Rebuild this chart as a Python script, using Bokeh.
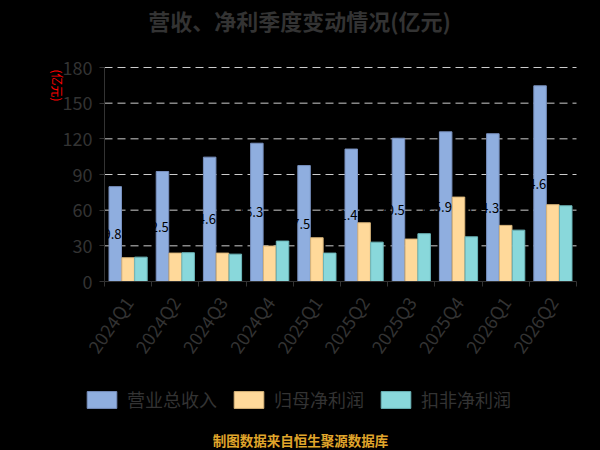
import math
from bokeh.plotting import figure
from bokeh.models import (ColumnDataSource, Range1d, FixedTicker, Legend,
                          LegendItem, Label)
from bokeh.transform import dodge
from bokeh.core.properties import value
from bokeh.embed import file_html
from bokeh.resources import INLINE

FONT = "Noto Sans CJK SC"

quarters = ["2024Q1", "2024Q2", "2024Q3", "2024Q4", "2025Q1",
            "2025Q2", "2025Q3", "2025Q4", "2026Q1", "2026Q2"]
revenue = [79.8, 92.5, 104.6, 116.3, 97.5, 111.4, 120.5, 125.9, 124.3, 164.6]
net_profit = [20.0, 23.9, 23.9, 29.8, 36.8, 49.4, 35.7, 71.0, 47.2, 64.6]
deducted_profit = [20.5, 24.2, 23.0, 34.0, 23.9, 33.1, 40.2, 37.6, 43.2, 63.7]
series_names = ["营业总收入", "归母净利润", "扣非净利润"]
y_ticks = [0, 30, 60, 90, 120, 150, 180]
title_text = "营收、净利季度变动情况(亿元)"
unit_text = "(亿元)"
footer_text = "制图数据来自恒生聚源数据库"

colors = ["#8FAEDF", "#FFD99A", "#89D8DB"]
edges = ["#7890BE", "#D9B57A", "#6CB6B9"]
TEXT = "#333333"

# canvas geometry (pixels)
W, H = 600, 450
PL, PR, PT, PB = 104, 576, 67, 281

n = len(quarters)
y_min, y_max = y_ticks[0], y_ticks[-1]
ppx = (PR - PL) / n
ppy = (PB - PT) / (y_max - y_min)
x_range = Range1d(-PL / ppx, n + (W - PR) / ppx)
y_range = Range1d(y_min - (H - PB) / ppy, y_max + PT / ppy)

pos = [i + 0.5 for i in range(n)]
src = ColumnDataSource(dict(
    pos=pos, rev=revenue, net=net_profit, ded=deducted_profit,
    label_y=[v / 2 for v in revenue],
    label_text=[f"{v:.1f}" for v in revenue],
))
grid_src = ColumnDataSource(dict(
    x0=[0] * (len(y_ticks) - 1), x1=[n] * (len(y_ticks) - 1),
    y=y_ticks[1:],
))

p = figure(width=W, height=H, x_range=x_range, y_range=y_range,
           output_backend="svg", toolbar_location=None, min_border=0,
           background_fill_color="black", border_fill_color="black",
           outline_line_color=None)
p.xgrid.visible = False
p.ygrid.visible = False

# dashed horizontal grid lines at the y ticks
p.segment(x0="x0", x1="x1", y0="y", y1="y", source=grid_src,
          line_color="#cccccc", line_dash="8 5", line_width=1, level="underlay")

bw = 0.265
off = 0.272
r1 = p.vbar(x=dodge("pos", -off), top="rev", width=bw, source=src,
            fill_color=colors[0], line_color=edges[0], line_width=1)
r2 = p.vbar(x=dodge("pos", 0), top="net", width=bw, source=src,
            fill_color=colors[1], line_color=edges[1], line_width=1)
r3 = p.vbar(x=dodge("pos", off), top="ded", width=bw, source=src,
            fill_color=colors[2], line_color=edges[2], line_width=1)

# black value labels (only visible where they cross the bars)
p.text(x=dodge("pos", -off + bw / 2), y="label_y", text="label_text", source=src,
       text_align="right", text_baseline="middle", text_color="#000000",
       text_font=value(FONT), text_font_size="13px")

# y axis
p.yaxis.fixed_location = 0
p.yaxis.bounds = (y_min, y_max)
p.yaxis.ticker = FixedTicker(ticks=y_ticks)
p.yaxis.axis_line_color = TEXT
p.yaxis.major_tick_line_color = TEXT
p.yaxis.major_tick_out = 5
p.yaxis.major_tick_in = 0
p.yaxis.minor_tick_line_color = None
p.yaxis.major_label_text_font = FONT
p.yaxis.major_label_text_font_size = "18px"
p.yaxis.major_label_text_color = TEXT
p.yaxis.major_label_standoff = 7

# x axis
p.xaxis.fixed_location = 0
p.xaxis.bounds = (0, n)
p.xaxis.ticker = FixedTicker(ticks=pos, minor_ticks=list(range(n + 1)))
p.xaxis.major_label_overrides = {pp: q for pp, q in zip(pos, quarters)}
p.xaxis.axis_line_color = TEXT
p.xaxis.major_tick_line_color = None
p.xaxis.major_tick_out = 0
p.xaxis.major_tick_in = 0
p.xaxis.minor_tick_line_color = TEXT
p.xaxis.minor_tick_out = 5
p.xaxis.minor_tick_in = 0
p.xaxis.major_label_orientation = math.radians(55)
p.xaxis.major_label_text_font = FONT
p.xaxis.major_label_text_font_size = "18px"
p.xaxis.major_label_text_color = TEXT
p.xaxis.major_label_standoff = 12


def canvas_label(x, y, text, **kw):
    # x, y measured from the canvas top-left corner
    return Label(x=x, y=H - y, x_units="screen", y_units="screen", text=text,
                 text_font=FONT, text_align="center", text_baseline="middle", **kw)


p.add_layout(canvas_label(299, 19, title_text, text_font_size="22px",
                          text_font_style="bold", text_color=TEXT))
p.add_layout(canvas_label(57, 85, unit_text, text_font_size="12px",
                          text_color="#ff0000", angle=-math.pi / 2))
p.add_layout(canvas_label(300, 439, footer_text, text_font_size="13.5px",
                          text_font_style="bold", text_color="#E0A62B"))

legend = Legend(items=[LegendItem(label=series_names[0], renderers=[r1]),
                       LegendItem(label=series_names[1], renderers=[r2]),
                       LegendItem(label=series_names[2], renderers=[r3])],
                orientation="horizontal", location=(83, H - 412),
                glyph_width=37, glyph_height=21, label_height=21,
                label_standoff=7, spacing=13, padding=0, margin=0,
                label_text_font=FONT, label_text_font_size="18px",
                label_text_color=TEXT, background_fill_alpha=0,
                border_line_alpha=0)
p.add_layout(legend)

html = file_html(p, INLINE)
html = html.replace("</head>", "<style>body{background:#000000;}</style></head>", 1)
open("out.html", "w").write(html)
